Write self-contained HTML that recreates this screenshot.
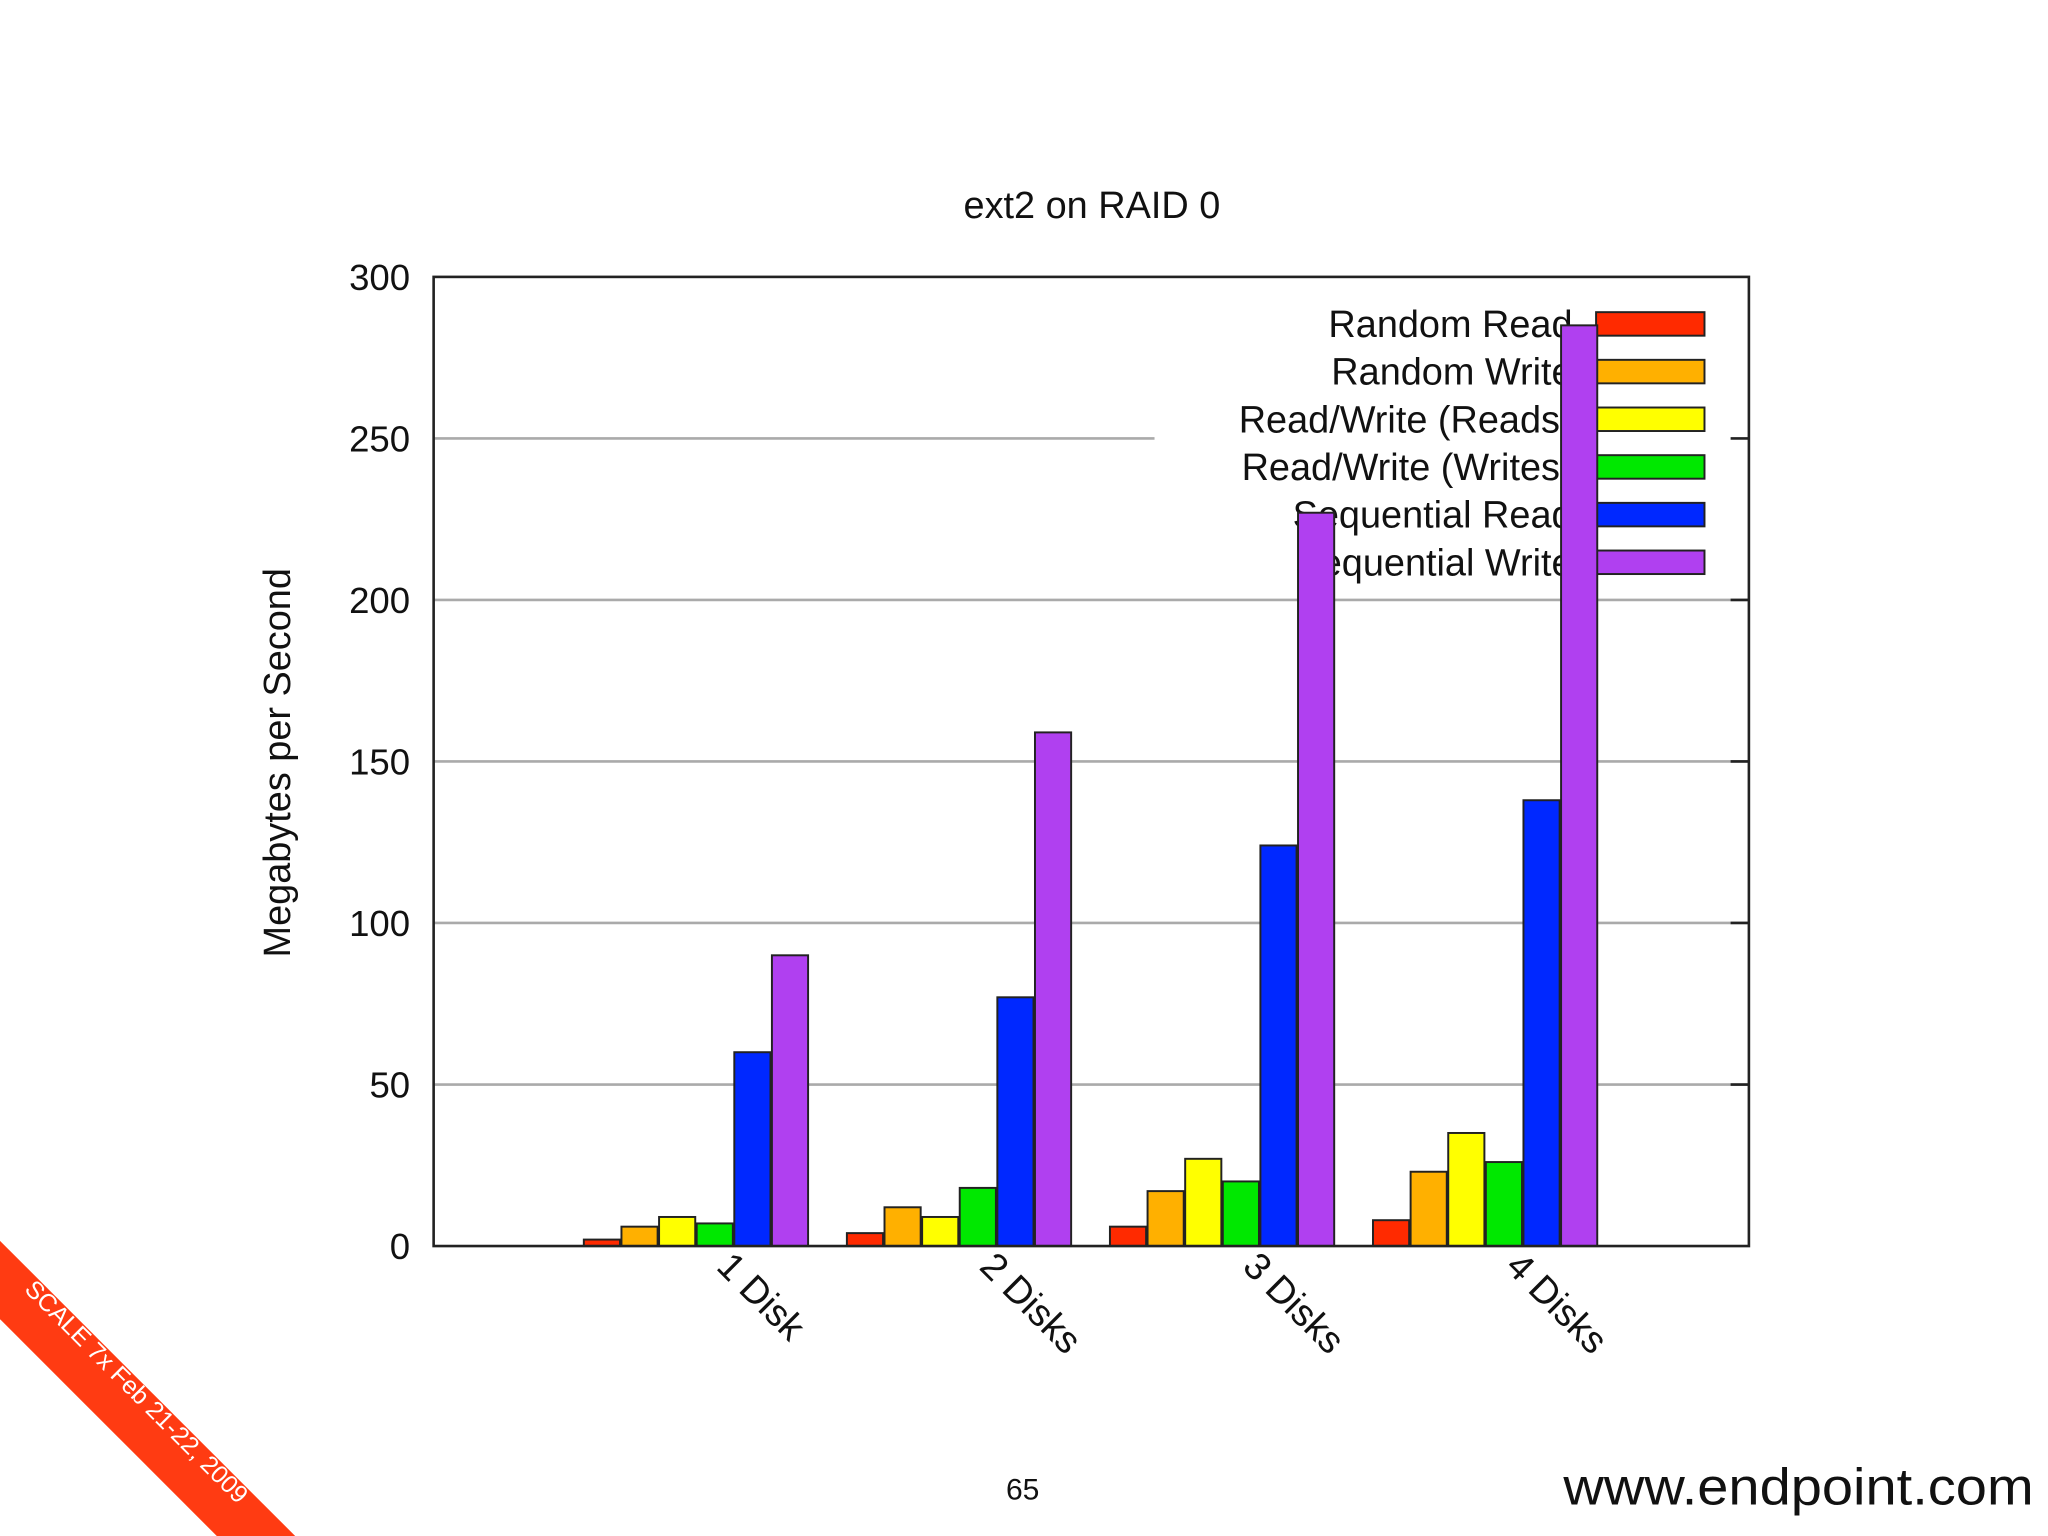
<!DOCTYPE html>
<html><head><meta charset="utf-8"><style>
html,body{margin:0;padding:0;background:#fff;}
svg{display:block;font-family:"Liberation Sans",sans-serif;}
</style></head><body>
<svg id="chart" width="2048" height="1536" viewBox="0 0 1568 1176" xmlns="http://www.w3.org/2000/svg">
<rect x="0" y="0" width="1568" height="1176" fill="#fff"/>
<text x="836" y="167" font-size="29" text-anchor="middle" fill="#111">ext2 on RAID 0</text>
<text x="0" y="0" font-size="29" text-anchor="middle" fill="#111" transform="translate(222,584) rotate(-90)">Megabytes per Second</text>
<g id="grid"></g>
<g id="legend"></g>
<g id="bars"></g>
<rect x="332" y="212" width="1007" height="742" fill="none" stroke="#222" stroke-width="2"/>
<g id="xlabels"></g>
<polygon points="0,950 226,1176 166,1176 0,1010" fill="#ff3b12"/>
<text x="0" y="0" font-size="19" fill="#fff" text-anchor="middle" transform="translate(100,1070) rotate(45)">SCALE 7x Feb 21-22, 2009</text>
<text x="783" y="1148" font-size="23" text-anchor="middle" fill="#111">65</text>
<text x="1557" y="1152" font-size="40" text-anchor="end" textLength="360" lengthAdjust="spacingAndGlyphs" fill="#111">www.endpoint.com</text>
</svg>
<script>
const categories = ["1 Disk", "2 Disks", "3 Disks", "4 Disks"];
const seriesNames = ["Random Read", "Random Write", "Read/Write (Reads)", "Read/Write (Writes)", "Sequential Read", "Sequential Write"];
const randomRead = [2, 4, 6, 8];
const randomWrite = [6, 12, 17, 23];
const rwReads = [9, 9, 27, 35];
const rwWrites = [7, 18, 20, 26];
const seqRead = [60, 77, 124, 138];
const seqWrite = [90, 159, 227, 285];
const yTicks = [0, 50, 100, 150, 200, 250, 300];
const colors = ["#ff2a00", "#ffb000", "#ffff00", "#00e800", "#0028ff", "#b040f0"];
const series = [randomRead, randomWrite, rwReads, rwWrites, seqRead, seqWrite];

const NS = "http://www.w3.org/2000/svg";
const L = 332, R = 1339, T = 212, B = 954;
function y(v){ return B - (v / 300) * (B - T); }
function x(u){ return L + (u + 1) / 5 * (R - L); }
const unit = (R - L) / 5;
const barW = unit * 0.1375;
const step = unit * 0.143;
function mk(tag, attrs, parent){ const e = document.createElementNS(NS, tag); for (const k in attrs) e.setAttribute(k, attrs[k]); parent.appendChild(e); return e; }

const grid = document.getElementById('grid');
yTicks.forEach((t) => {
  const yy = y(t);
  if (t > 0 && t < 300) {
    const x2 = (t === 250) ? 884 : R;
    const g = mk('line', {x1: L, x2: x2, y1: yy, y2: yy, stroke: '#aaa', 'stroke-width': 2}, grid);
    
    
    const tk = mk('line', {x1: R - 14, x2: R, y1: yy, y2: yy, stroke: '#222', 'stroke-width': 2}, grid);
    
    
  }
  const lb = mk('text', {x: 314, y: yy + 10, 'font-size': 28, 'text-anchor': 'end', fill: '#111'}, grid);
  lb.textContent = t;
  
  
});

const legend = document.getElementById('legend');
const lg = mk('rect', {x: 884, y: 226, width: 440, height: 222, fill: '#fff'}, legend);


seriesNames.forEach((n, i) => {
  const yy = 248 + i * 36.5;
  const t = mk('text', {x: 1204, y: yy + 10, 'font-size': 29, 'text-anchor': 'end', fill: '#111'}, legend);
  t.textContent = n;
  
  
  const s = mk('rect', {x: 1222, y: yy - 9, width: 83, height: 18, fill: colors[i], stroke: '#222', 'stroke-width': 1.5}, legend);
  
  
});

const bars = document.getElementById('bars');
const xl = document.getElementById('xlabels');
categories.forEach((c, ci) => {
  const cx = x(ci);
  series.forEach((arr, si) => {
    const bx = cx + (si - 3) * step;
    const r = mk('rect', {x: bx, y: y(arr[ci]), width: barW, height: B - y(arr[ci]), fill: colors[si], stroke: '#222', 'stroke-width': 1.5}, bars);
    
    
  });
  const t = mk('text', {x: 0, y: 0, 'font-size': 29, fill: '#111', transform: 'translate(' + (cx + 14) + ',971) rotate(45)'}, xl);
  t.textContent = c;
  
  
});
</script>
</body></html>
